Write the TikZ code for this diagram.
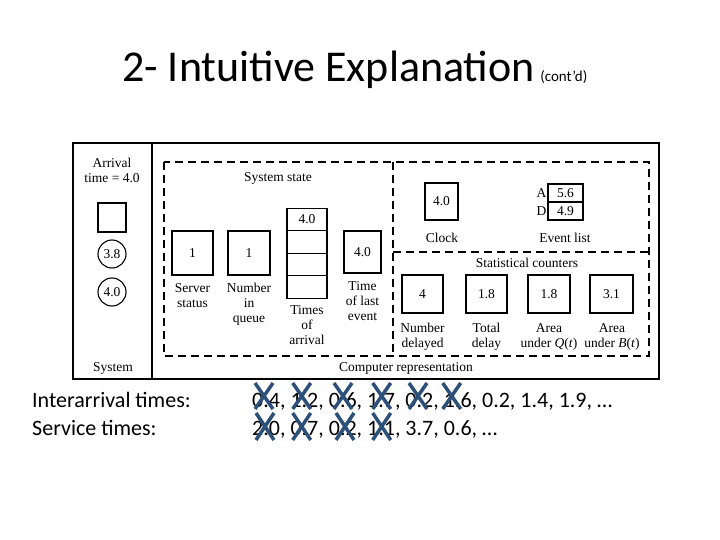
\documentclass[tikz,border=0pt]{standalone}
\usepackage{fontspec}
\setmainfont{Carlito}
\newfontfamily\tms{Liberation Serif}
\definecolor{xblue}{HTML}{2C5078}
\begin{document}
\begin{tikzpicture}[x=1pt,y=-1pt,
  box/.style={draw,line width=1.1pt,inner sep=0pt,outer sep=0pt,font=\tms\fontsize{13.5}{15}\selectfont},
  lbl/.style={font=\tms\fontsize{13.5}{15}\selectfont,align=center,inner sep=0pt},
  dsh/.style={line width=1.2pt,dash pattern=on 8pt off 5pt},
  frame/.style={line width=1.3pt},
  xmark/.style={draw=xblue,line width=3.5pt},
  slide/.style={inner sep=0pt,anchor=base west}]
\useasboundingbox (0,0) rectangle (720,540);
% title
\node[slide,font=\fontsize{44}{52}\selectfont] (title) at (122,82) {2- Intuitive Explanation};
\node[slide,font=\fontsize{15}{17}\selectfont] (contd) at ([xshift=5pt]title.base east) {(cont’d)};
% frame
\draw[frame] (73,143) rectangle (659,379);
\draw[frame] (152,143) -- (152,379);
\draw[dsh] (164,162) rectangle (649,356);
\draw[dsh] (393,162) -- (393,356);
\draw[dsh] (393,252) -- (649,252);
% system panel
\node[lbl] (arr) at (112,170) {Arrival\\time = 4.0};
\node[box,minimum width=28pt,minimum height=29pt] (sq) at (112,217.5) {};
\node[box,circle,minimum size=28pt] (c1) at (112,254) {3.8};
\node[box,circle,minimum size=28pt] (c2) at (112,292) {4.0};
\node[lbl] (sys) at (113,368) {System};
% system state
\node[lbl] (sst) at (278,178) {System state};
\node[box,minimum width=41pt,minimum height=44pt] (srv) at (192.5,253) {1};
\node[lbl,anchor=north] (srvl) at (192.5,283) {Server\\status};
\node[box,minimum width=42pt,minimum height=44pt] (nq) at (249,253) {1};
\node[lbl,anchor=north] (nql) at (249,283) {Number\\in\\queue};
\node[box,minimum width=40pt,minimum height=22.5pt] (ta1) at (307,219.5) {4.0};
\node[box,minimum width=40pt,minimum height=22.5pt,anchor=north] (ta2) at (ta1.south) {};
\node[box,minimum width=40pt,minimum height=22.5pt,anchor=north] (ta3) at (ta2.south) {};
\node[box,minimum width=40pt,minimum height=22.5pt,anchor=north] (ta4) at (ta3.south) {};
\node[lbl,anchor=north] (tal) at (307,305) {Times\\of\\arrival};
\node[box,minimum width=37pt,minimum height=42pt] (tle) at (362.5,252) {4.0};
\node[lbl,anchor=north] (tlel) at (362.5,281) {Time\\of last\\event};
% clock and event list
\node[box,minimum width=33pt,minimum height=37pt] (clk) at (441.5,201.5) {4.0};
\node[lbl] (clkl) at (442,238) {Clock};
\node[box,minimum width=35pt,minimum height=18pt] (evA) at (565.5,193) {5.6};
\node[box,minimum width=35pt,minimum height=18pt,anchor=north] (evD) at (evA.south) {4.9};
\node[lbl,anchor=east] (lA) at ([xshift=-1.5pt]evA.west) {A};
\node[lbl,anchor=east] (lD) at ([xshift=-1.5pt]evD.west) {D};
\node[lbl] (evl) at (565,238) {Event list};
% statistical counters
\node[lbl] (stc) at (527,263) {Statistical counters};
\node[box,minimum width=41pt,minimum height=38pt] (s1) at (422.5,294) {4};
\node[box,minimum width=41pt,minimum height=38pt] (s2) at (486.5,294) {1.8};
\node[box,minimum width=42pt,minimum height=38pt] (s3) at (549,294) {1.8};
\node[box,minimum width=43pt,minimum height=38pt] (s4) at (611.5,294) {3.1};
\node[lbl,anchor=north] (s1l) at (422.5,323) {Number\\delayed};
\node[lbl,anchor=north] (s2l) at (486.5,323) {Total\\delay};
\node[lbl,anchor=north] (s3l) at (549,323) {Area\\under \textit{Q}(\textit{t})};
\node[lbl,anchor=north] (s4l) at (612,323) {Area\\under \textit{B}(\textit{t})};
\node[lbl] (cr) at (406,368) {Computer representation};
% bottom text
\node[slide,font=\fontsize{22}{26}\selectfont] (ia) at (32,407) {Interarrival times:};
\node[slide,font=\fontsize{22}{26}\selectfont] (iav) at (252,407) {0.4, 1.2, 0.6, 1.7, 0.2, 1.6, 0.2, 1.4, 1.9, …};
\node[slide,font=\fontsize{22}{26}\selectfont] (st) at (32,435) {Service times:};
\node[slide,font=\fontsize{22}{26}\selectfont] (stv) at (252,435) {2.0, 0.7, 0.2, 1.1, 3.7, 0.6, …};
% crosses
\foreach \cx in {264,301.7,343,381.7,418,451.7}
  \draw[xmark] ({\cx-9},383) -- ({\cx+9},409) ({\cx-9},409) -- ({\cx+9},383);
\foreach \cx in {265,301.7,345,381.7}
  \draw[xmark] ({\cx-9},413) -- ({\cx+9},440) ({\cx-9},440) -- ({\cx+9},413);
\end{tikzpicture}
\end{document}
